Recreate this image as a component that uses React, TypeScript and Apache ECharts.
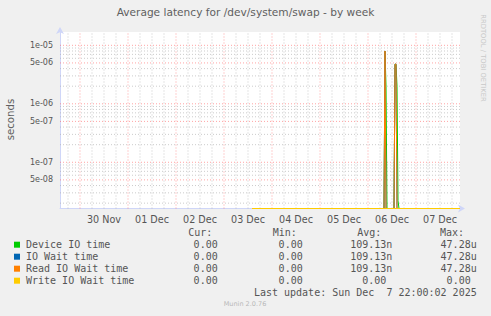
import React, { useEffect, useRef } from "react";
import * as echarts from "echarts";

// ---- data ----
const titleText = "Average latency for /dev/system/swap - by week";
const yAxisName = "seconds";

const xStart = "2025-11-29 14:00";
const xEnd = "2025-12-07 22:00";

const dayLabelTimes = [
  "2025-11-30 12:00", "2025-12-01 12:00", "2025-12-02 12:00", "2025-12-03 12:00",
  "2025-12-04 12:00", "2025-12-05 12:00", "2025-12-06 12:00", "2025-12-07 12:00",
];
const dayLabels = ["30 Nov", "01 Dec", "02 Dec", "03 Dec", "04 Dec", "05 Dec", "06 Dec", "07 Dec"];

const yMin = 1.62e-8;
const yMax = 1.69e-5;
const yTickValues = [1e-5, 5e-6, 1e-6, 5e-7, 1e-7, 5e-8];
const yTickLabels = ["1e-05", "5e-06", "1e-06", "5e-07", "1e-07", "5e-08"];

// Device IO time
const deviceTimes = [
  "2025-12-03 14:00", "2025-12-06 08:00", "2025-12-06 08:30", "2025-12-06 09:00", "2025-12-06 09:30",
  "2025-12-06 13:00", "2025-12-06 13:30", "2025-12-06 14:00", "2025-12-06 14:30", "2025-12-06 15:00",
  "2025-12-06 15:30", "2025-12-07 22:00",
];
const deviceValues = [0, 0, 8.0e-6, 2.0e-6, 0, 0, 4.75e-6, 4.75e-6, 2.0e-6, 2.2e-8, 0, 0];

// IO Wait time
const ioWaitTimes = [
  "2025-12-03 14:00", "2025-12-06 08:00", "2025-12-06 08:30", "2025-12-06 09:00",
  "2025-12-06 13:00", "2025-12-06 13:30", "2025-12-06 14:00", "2025-12-06 14:30", "2025-12-07 22:00",
];
const ioWaitValues = [0, 0, 8.0e-6, 0, 0, 4.75e-6, 4.75e-6, 0, 0];

// Read IO Wait time
const readTimes = [
  "2025-12-03 14:00", "2025-12-06 08:00", "2025-12-06 08:30", "2025-12-06 09:00",
  "2025-12-06 13:00", "2025-12-06 13:30", "2025-12-06 14:00", "2025-12-06 14:30", "2025-12-07 22:00",
];
const readValues = [0, 0, 8.0e-6, 0, 0, 4.75e-6, 4.75e-6, 0, 0];

// Write IO Wait time
const writeTimes = ["2025-12-03 14:00", "2025-12-07 22:00"];
const writeValues = [0, 0];

const legendNames = ["Device IO time", "IO Wait time", "Read IO Wait time", "Write IO Wait time"];
const legendColors = ["#00CC00", "#0066B3", "#FF8000", "#FFCC00"];
const curValues = ["0.00", "0.00", "0.00", "0.00"];
const minValues = ["0.00", "0.00", "0.00", "0.00"];
const avgValues = ["109.13n", "109.13n", "109.13n", "0.00"];
const maxValues = ["47.28u", "47.28u", "47.28u", "0.00"];
const statHeaders = ["Cur:", "Min:", "Avg:", "Max:"];
const lastUpdate = "Last update: Sun Dec \u00a07 22:00:02 2025";
const versionText = "Munin 2.0.76";
const watermark = "RRDTOOL / TOBI OETIKER";

// ---- helpers ----
const ts = (s: string) => echarts.number.parseDate(s).getTime();
const toSeries = (times: string[], values: number[]) =>
  times.map((t, i) => [ts(t), Math.max(values[i], yMin)]);

export default function App() {
  const ref = useRef<HTMLDivElement>(null);
  useEffect(() => {
    if (!ref.current) return;
    const chart = echarts.init(ref.current, null, { renderer: "svg" });

    const xMinT = ts(xStart);
    const xMaxT = ts(xEnd);

    // grid line segments (positions only), separated by gaps
    const minorSeg: any[] = [];
    const majorSeg: any[] = [];
    const sixH = 6 * 3600 * 1000;
    let t = ts("2025-11-29 18:00");
    while (t < xMaxT) {
      const major = new Date(t).getHours() === 0;
      const arr = major ? majorSeg : minorSeg;
      arr.push([t, yMin], [t, yMax], ["-", "-"]);
      t += sixH;
    }
    for (let k = -8; k <= -5; k++) {
      for (let n = 1; n <= 9; n++) {
        const v = n * Math.pow(10, k);
        if (v < yMin || v > yMax) continue;
        const arr = n === 1 || n === 5 ? majorSeg : minorSeg;
        arr.push([xMinT, v], [xMaxT, v], ["-", "-"]);
      }
    }

    const mono = "'DejaVu Sans Mono', monospace";
    const sans = "'DejaVu Sans', sans-serif";
    const textColor = "#555555";
    const charW = 6;
    const colRight = [223.7, 308.7, 392.3, 476.7];
    const headerLeft = [188.3, 272.7, 357.3, 440];
    const rowY = [244.7, 256.7, 268.7, 280.7];

    const graphics: any[] = [];
    graphics.push({
      type: "text", x: 245.5, y: 12,
      style: { text: titleText, textAlign: "center", textVerticalAlign: "middle", fontSize: 10.6, fontFamily: sans, fill: "#606060" },
    });
    graphics.push({
      type: "text", x: 10.5, y: 119.5, rotation: Math.PI / 2,
      style: { text: yAxisName, textAlign: "center", textVerticalAlign: "middle", fontSize: 10.2, fontFamily: sans, fill: "#606060" },
    });
    graphics.push({
      type: "text", x: 483, y: 58, rotation: -Math.PI / 2,
      style: { text: watermark, textAlign: "center", textVerticalAlign: "middle", fontSize: 6.8, fontFamily: sans, fill: "#c8c8c8" },
    });
    statHeaders.forEach((h, i) => {
      graphics.push({
        type: "text", x: headerLeft[i], y: 232.5,
        style: { text: h, textAlign: "left", textVerticalAlign: "middle", fontSize: 10, fontFamily: mono, fill: textColor },
      });
    });
    const cols = [curValues, minValues, avgValues, maxValues];
    legendNames.forEach((name, r) => {
      graphics.push({
        type: "rect", shape: { x: 14, y: rowY[r] - 3, width: 6, height: 6 },
        style: { fill: legendColors[r] },
      });
      graphics.push({
        type: "text", x: 26, y: rowY[r],
        style: { text: name, textAlign: "left", textVerticalAlign: "middle", fontSize: 10, fontFamily: mono, fill: textColor },
      });
      cols.forEach((col, c) => {
        const s = col[r];
        const hasSuffix = /[a-zA-Z]$/.test(s);
        graphics.push({
          type: "text", x: colRight[c] - (hasSuffix ? 0 : charW), y: rowY[r],
          style: { text: s, textAlign: "right", textVerticalAlign: "middle", fontSize: 10, fontFamily: mono, fill: textColor },
        });
      });
    });
    graphics.push({
      type: "text", x: 476.7, y: 292.7,
      style: { text: lastUpdate, textAlign: "right", textVerticalAlign: "middle", fontSize: 10, fontFamily: mono, fill: textColor },
    });
    graphics.push({
      type: "text", x: 245, y: 304,
      style: { text: versionText, textAlign: "center", textVerticalAlign: "middle", fontSize: 6.5, fontFamily: sans, fill: "#b8b8b8" },
    });

    const axisColor = "#CFD6F8";
    const seriesDefs = [
      { name: legendNames[0], times: deviceTimes, values: deviceValues, color: legendColors[0] },
      { name: legendNames[1], times: ioWaitTimes, values: ioWaitValues, color: legendColors[1] },
      { name: legendNames[2], times: readTimes, values: readValues, color: legendColors[2] },
      { name: legendNames[3], times: writeTimes, values: writeValues, color: legendColors[3] },
    ];

    const dayLabelTs = dayLabelTimes.map(ts);

    const gridSeries = (data: any[], color: string) => ({
      type: "line",
      data,
      silent: true,
      showSymbol: false,
      symbol: "none",
      connectNulls: false,
      lineStyle: { color, width: 1, type: [1, 2] },
      z: 1,
    });

    chart.setOption({
      animation: false,
      backgroundColor: "#F0F0F0",
      grid: {
        left: 60, right: 31, top: 32, bottom: 107.5,
        show: true, backgroundColor: "#FFFFFF", borderWidth: 0,
      },
      xAxis: {
        type: "value",
        min: xMinT,
        max: xMaxT,
        splitLine: { show: false },
        axisTick: { show: false },
        axisLine: {
          show: true,
          lineStyle: { color: axisColor, width: 1 },
          symbol: ["none", "arrow"],
          symbolSize: [6, 7],
          symbolOffset: [0, 5],
        },
        axisLabel: {
          customValues: dayLabelTs,
          margin: 6,
          fontSize: 9.6,
          fontFamily: sans,
          color: textColor,
          hideOverlap: false,
          formatter: (v: number) => {
            let best = 0;
            dayLabelTs.forEach((d, i) => {
              if (Math.abs(d - v) < Math.abs(dayLabelTs[best] - v)) best = i;
            });
            return dayLabels[best];
          },
        },
      },
      yAxis: {
        type: "log",
        logBase: 10,
        min: yMin,
        max: yMax,
        splitLine: { show: false },
        minorSplitLine: { show: false },
        axisTick: { show: false },
        axisLine: {
          show: true,
          lineStyle: { color: axisColor, width: 1 },
          symbol: ["none", "arrow"],
          symbolSize: [6, 7],
          symbolOffset: [0, 5],
        },
        axisLabel: {
          customValues: yTickValues,
          margin: 7,
          fontSize: 8,
          fontFamily: sans,
          color: textColor,
          formatter: (v: number) => {
            let best = 0;
            yTickValues.forEach((d, i) => {
              if (Math.abs(Math.log10(d) - Math.log10(v)) < Math.abs(Math.log10(yTickValues[best]) - Math.log10(v))) best = i;
            });
            return yTickLabels[best];
          },
        },
      },
      series: [
        gridSeries(minorSeg, "rgba(170,170,170,0.6)"),
        gridSeries(majorSeg, "rgba(255,90,90,0.55)"),
        ...seriesDefs.map((s) => ({
          type: "line",
          name: s.name,
          data: toSeries(s.times, s.values),
          showSymbol: false,
          symbol: "none",
          clip: false,
          lineStyle: { color: s.color, width: 1 },
          itemStyle: { color: s.color },
          z: 2,
        })),
      ],
      graphic: graphics,
    });
    return () => chart.dispose();
  }, []);
  return <div ref={ref} style={{ position: "fixed", left: 0, top: 0, width: 491, height: 316 }} />;
}
